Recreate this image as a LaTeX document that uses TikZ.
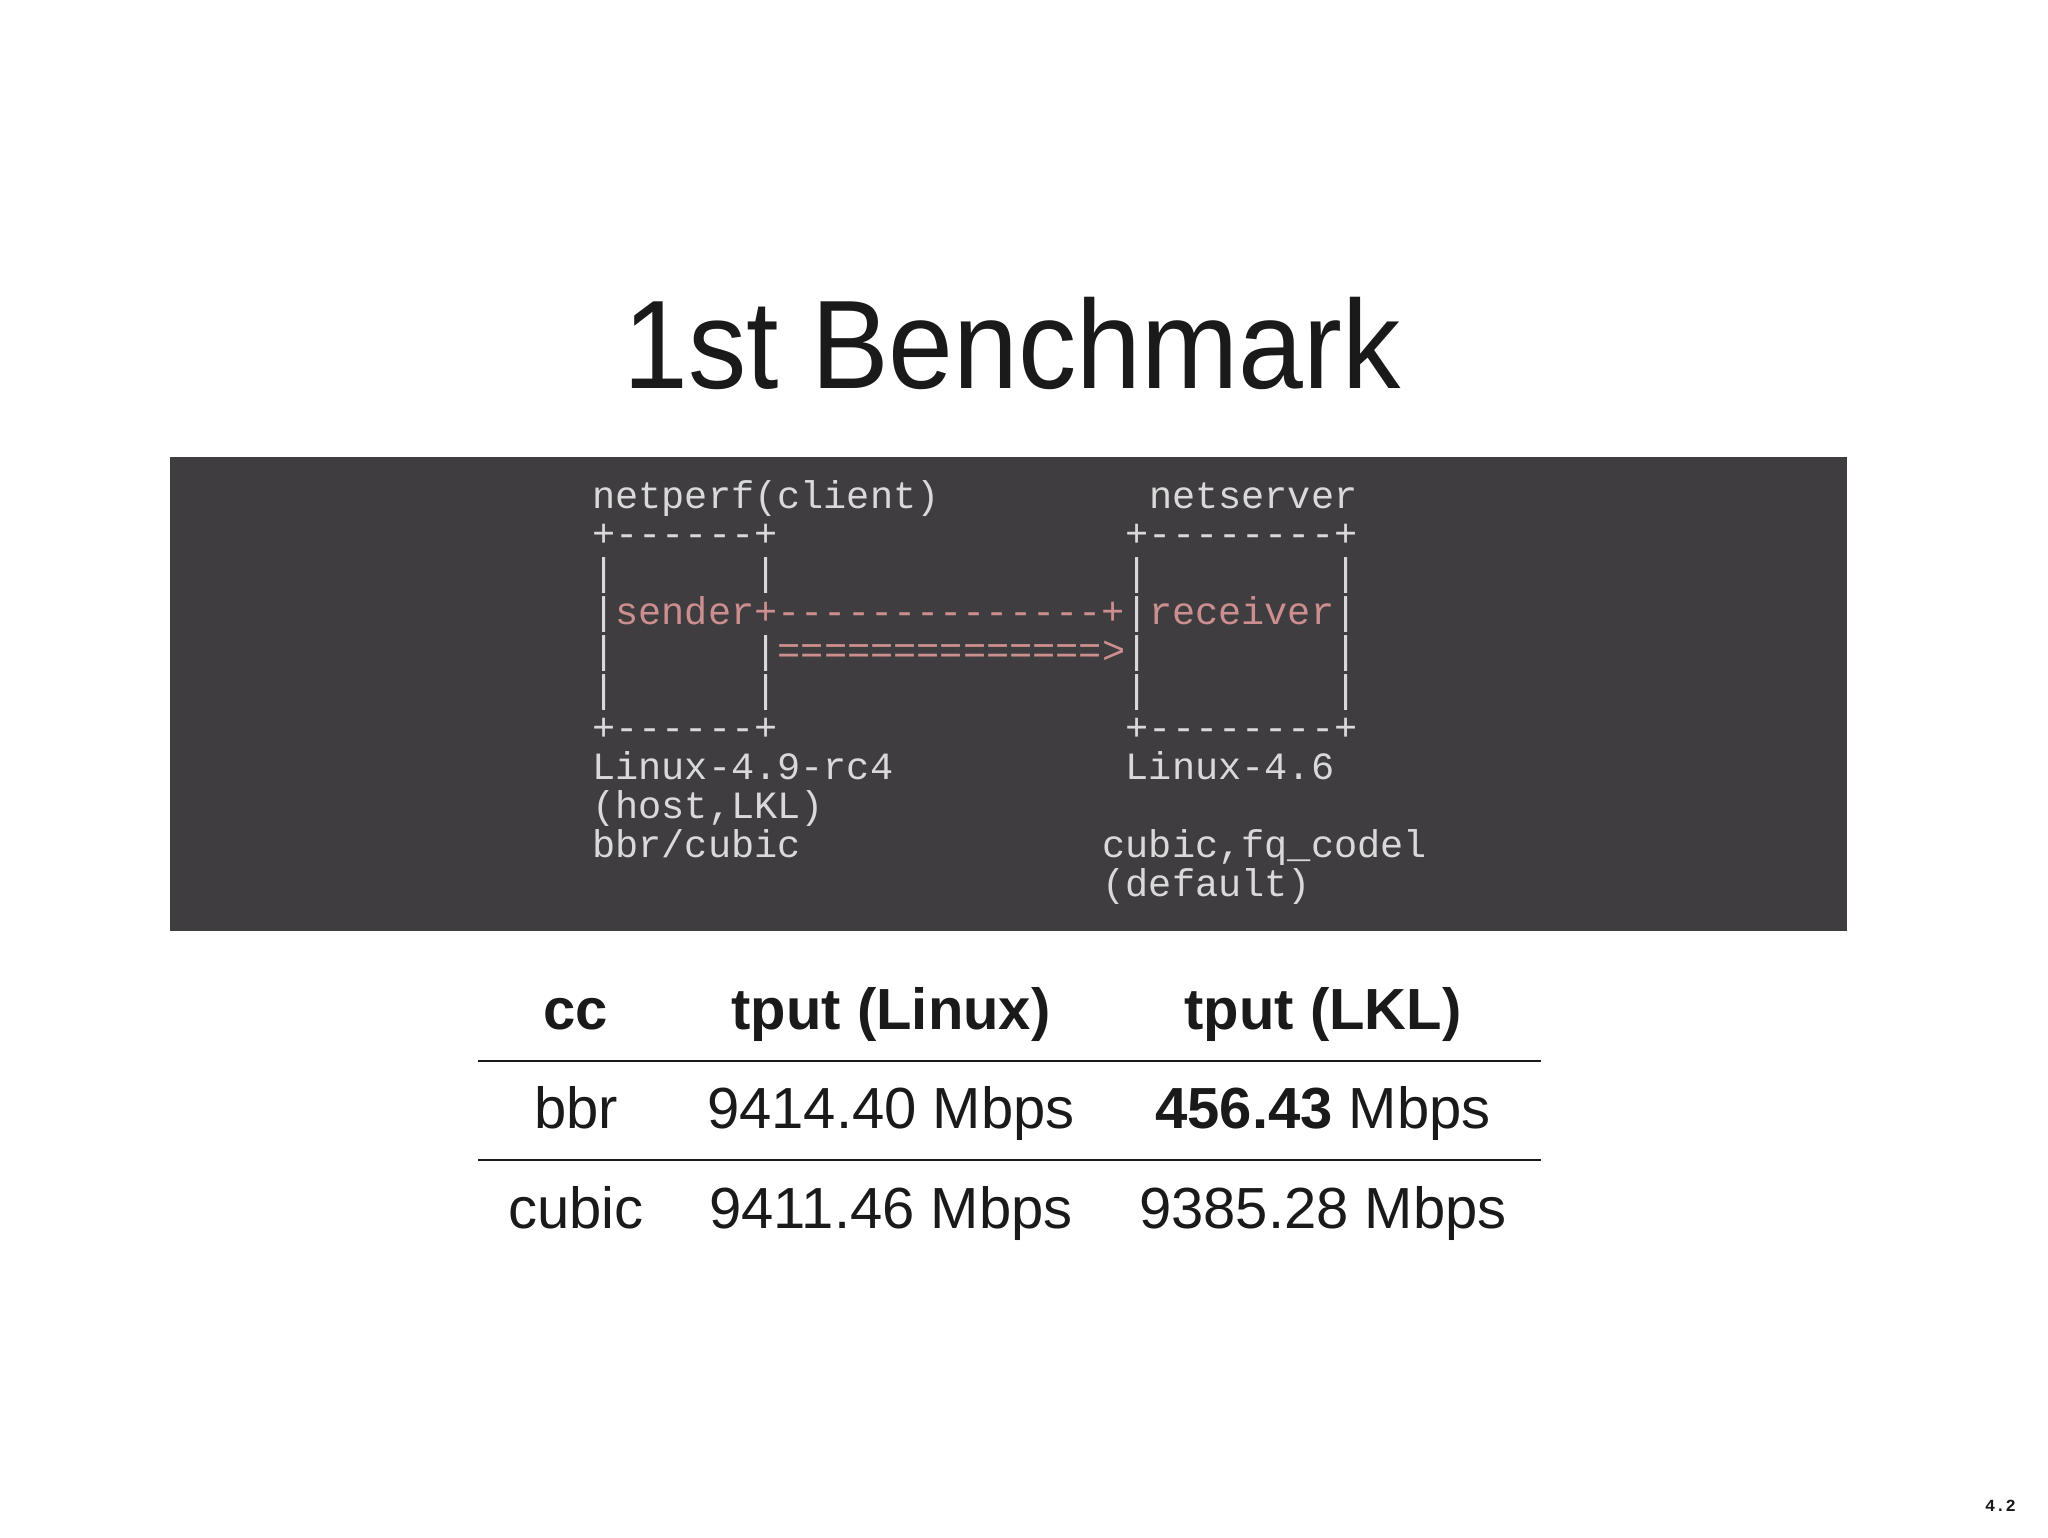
\documentclass[tikz,border=0pt]{standalone}
\usepackage{fontspec}
\usepackage{graphicx}
\setmainfont{Liberation Sans}
\setmonofont{Liberation Mono}
\definecolor{codebg}{HTML}{3F3D40}
\definecolor{codefg}{HTML}{D9D9D9}
\definecolor{codepk}{HTML}{CC8E8E}
\definecolor{ink}{HTML}{1A1A1A}
\begin{document}
\begin{tikzpicture}[x=1pt,y=-1pt,
  cd/.style={anchor=base west,inner sep=0pt,font=\fontsize{38.6}{40}\selectfont\ttfamily,text=codefg},
  pk/.style={cd,text=codepk},
  tb/.style={anchor=base,inner sep=0pt,font=\fontsize{58}{60}\selectfont,text=ink},
  rule/.style={line width=2pt,draw=ink}]
\useasboundingbox (0,0) rectangle (2048,1537);
\fill[codebg] (170,457) rectangle (1847,931);
\node[anchor=base,inner sep=0pt,text=ink] (title) at (1012,388) {\scalebox{0.925}[1]{\fontsize{126}{130}\selectfont 1st Benchmark}};
\def\cw{23.2}\def\rh{38.8}
\newcommand\seg[5]{\node[#4] (#5) at ({592+#1*\cw},{508+#2*\rh}) {#3};}
\seg{0}{0}{netperf(client)}{cd}{r0a}
\seg{24}{0}{netserver}{cd}{r0b}
\seg{0}{1}{+------+}{cd}{r1a}
\seg{23}{1}{+--------+}{cd}{r1b}
\seg{0}{2}{|}{cd}{r2a}\seg{7}{2}{|}{cd}{r2b}\seg{23}{2}{|}{cd}{r2c}\seg{32}{2}{|}{cd}{r2d}
\seg{0}{3}{|}{cd}{r3a}\seg{1}{3}{sender+--------------+}{pk}{r3b}\seg{23}{3}{|}{cd}{r3c}\seg{24}{3}{receiver}{pk}{r3d}\seg{32}{3}{|}{cd}{r3e}
\seg{0}{4}{|}{cd}{r4a}\seg{7}{4}{|}{cd}{r4b}\seg{8}{4}{==============>}{pk}{r4c}\seg{23}{4}{|}{cd}{r4d}\seg{32}{4}{|}{cd}{r4e}
\seg{0}{5}{|}{cd}{r5a}\seg{7}{5}{|}{cd}{r5b}\seg{23}{5}{|}{cd}{r5c}\seg{32}{5}{|}{cd}{r5d}
\seg{0}{6}{+------+}{cd}{r6a}
\seg{23}{6}{+--------+}{cd}{r6b}
\seg{0}{7}{Linux-4.9-rc4}{cd}{r7a}
\seg{23}{7}{Linux-4.6}{cd}{r7b}
\seg{0}{8}{(host,LKL)}{cd}{r8a}
\seg{0}{9}{bbr/cubic}{cd}{r9a}
\seg{22}{9}{cubic,fq\_codel}{cd}{r9b}
\seg{22}{10}{(default)}{cd}{r10a}
% table
\node[tb,font=\fontsize{58}{60}\selectfont\bfseries] (h1) at (576,1029) {cc};
\node[tb,font=\fontsize{58}{60}\selectfont\bfseries] (h2) at (891,1029) {tput (Linux)};
\node[tb,font=\fontsize{58}{60}\selectfont\bfseries] (h3) at (1323,1029) {tput (LKL)};
\coordinate (l1a) at (478,1061); \coordinate (l1b) at (1541,1061);
\coordinate (l2a) at (478,1160); \coordinate (l2b) at (1541,1160);
\draw[rule] (l1a) -- (l1b);
\draw[rule] (l2a) -- (l2b);
\node[tb] (a1) at (576,1128) {bbr};
\node[tb] (a2) at (891,1128) {9414.40 Mbps};
\node[tb] (a3) at (1323,1128) {\textbf{456.43} Mbps};
\node[tb] (b1) at (576,1228) {cubic};
\node[tb] (b2) at (891,1228) {9411.46 Mbps};
\node[tb] (b3) at (1323,1228) {9385.28 Mbps};
\node[anchor=base east,inner sep=0pt,text=ink,font=\fontsize{17}{18}\selectfont\ttfamily\bfseries] (pg) at (2016,1511) {4.2};
\end{tikzpicture}
\end{document}
